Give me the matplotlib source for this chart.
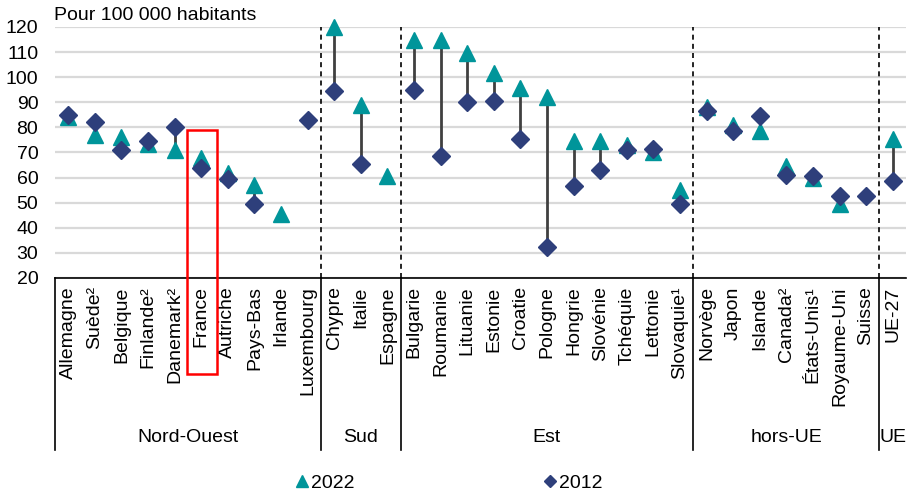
import numpy as np
import matplotlib
matplotlib.use("Agg")
import matplotlib.pyplot as plt
from matplotlib.lines import Line2D
from matplotlib.patches import Rectangle
import matplotlib.transforms as mtransforms

plt.rcParams['font.family'] = ['Liberation Sans', 'DejaVu Sans']

countries = ['Allemagne', 'Suède²', 'Belgique', 'Finlande²', 'Danemark²', 'France',
             'Autriche', 'Pays-Bas', 'Irlande', 'Luxembourg',
             'Chypre', 'Italie', 'Espagne',
             'Bulgarie', 'Roumanie', 'Lituanie', 'Estonie', 'Croatie', 'Pologne',
             'Hongrie', 'Slovénie', 'Tchéquie', 'Lettonie', 'Slovaquie¹',
             'Norvège', 'Japon', 'Islande', 'Canada²', 'États-Unis¹', 'Royaume-Uni', 'Suisse',
             'UE-27']
groups = ['Nord-Ouest', 'Sud', 'Est', 'hors-UE', 'UE']
group_sizes = [10, 3, 11, 7, 1]

v2022 = [84, 77, 76, 73.5, 71, 68, 62, 57, 45.5, np.nan,
         120, 89, 60.5,
         115, 115, 109.5, 101.5, 95.5, 92, 74.5, 74.5, 73, 70, 55,
         88, 81, 78.5, 64.5, 60, 49.5, np.nan,
         75.5]
v2012 = [85, 82, 71, 74.5, 80, 64, 59.5, 49.5, np.nan, 83,
         94.5, 65.5, np.nan,
         95, 68.5, 90, 90.5, 75.5, 32.5, 56.5, 63, 71, 71.5, 49.5,
         86.5, 78.5, 84.5, 61, 60.5, 52.5, 52.5,
         58.5]

teal = '#00959A'
navy = '#2E3F7B'

fig = plt.figure(figsize=(9.11, 4.92), dpi=100)
ax = fig.add_axes([55/911, 1-278/492, (906-55)/911, (278-27)/492])

x = np.arange(len(countries))
a = np.array(v2022, dtype=float)
b = np.array(v2012, dtype=float)

# connectors between 2012 and 2022
for xi, y1, y2 in zip(x, a, b):
    if not np.isnan(y1) and not np.isnan(y2):
        ax.plot([xi, xi], [y1, y2], color='#404040', lw=2, zorder=2)

ax.plot(x, a, '^', color=teal, markersize=12, linestyle='none', zorder=3,
        label='2022', clip_on=False)
ax.plot(x, b, 'D', color=navy, markersize=9, linestyle='none', zorder=4,
        label='2012', clip_on=False)

ax.set_xlim(-0.5, len(countries) - 0.5)
ax.set_ylim(20, 120)
ax.set_yticks(np.arange(20, 121, 10))
ax.yaxis.grid(True, color='#d9d9d9', lw=1.6)
ax.set_axisbelow(True)
for s in ['top', 'right', 'left']:
    ax.spines[s].set_visible(False)
ax.spines['bottom'].set_color('black')
ax.spines['bottom'].set_linewidth(1.2)
ax.tick_params(axis='y', length=0, pad=12, labelsize=14)
ax.tick_params(axis='x', length=0, pad=6, labelsize=14)
ax.set_xticks(x)
ax.set_xticklabels(countries, rotation=90, va='top', ha='center')

# group separators and labels
bounds = np.cumsum([0] + group_sizes) - 0.5
trans = mtransforms.blended_transform_factory(ax.transData, ax.transAxes)
for bx in bounds[1:-1]:
    ax.axvline(bx, color='black', lw=1.2, ls=(0, (3, 2.5)), zorder=1)
for bx in bounds[:-1]:
    ax.add_line(Line2D([bx, bx], [0, -0.685], transform=trans, color='black',
                       lw=1.2, clip_on=False))
for g, lo, hi in zip(groups, bounds[:-1], bounds[1:]):
    ax.text((lo + hi) / 2, -0.637, g, transform=trans, ha='center', va='center',
            fontsize=14)

# highlight France
fi = countries.index('France')
ax.add_patch(Rectangle((fi - 0.55, -0.383), 1.15, 0.588 + 0.383, transform=trans,
                       fill=False, edgecolor='#ff0000', lw=1.8, clip_on=False, zorder=5))

fig.text(54/911, 1-15/492, 'Pour 100 000 habitants', fontsize=14, va='center', ha='left')

handles = [Line2D([], [], marker='^', color=teal, ls='none', markersize=8),
           Line2D([], [], marker='D', color=navy, ls='none', markersize=6)]
fig.legend(handles, ['2022', '2012'], ncol=2, loc='center',
           bbox_to_anchor=(450/911, 1-483/492), frameon=False, fontsize=14,
           handlelength=0.5, handletextpad=0.2, columnspacing=9.8)

fig.savefig('out.png', dpi=100)
